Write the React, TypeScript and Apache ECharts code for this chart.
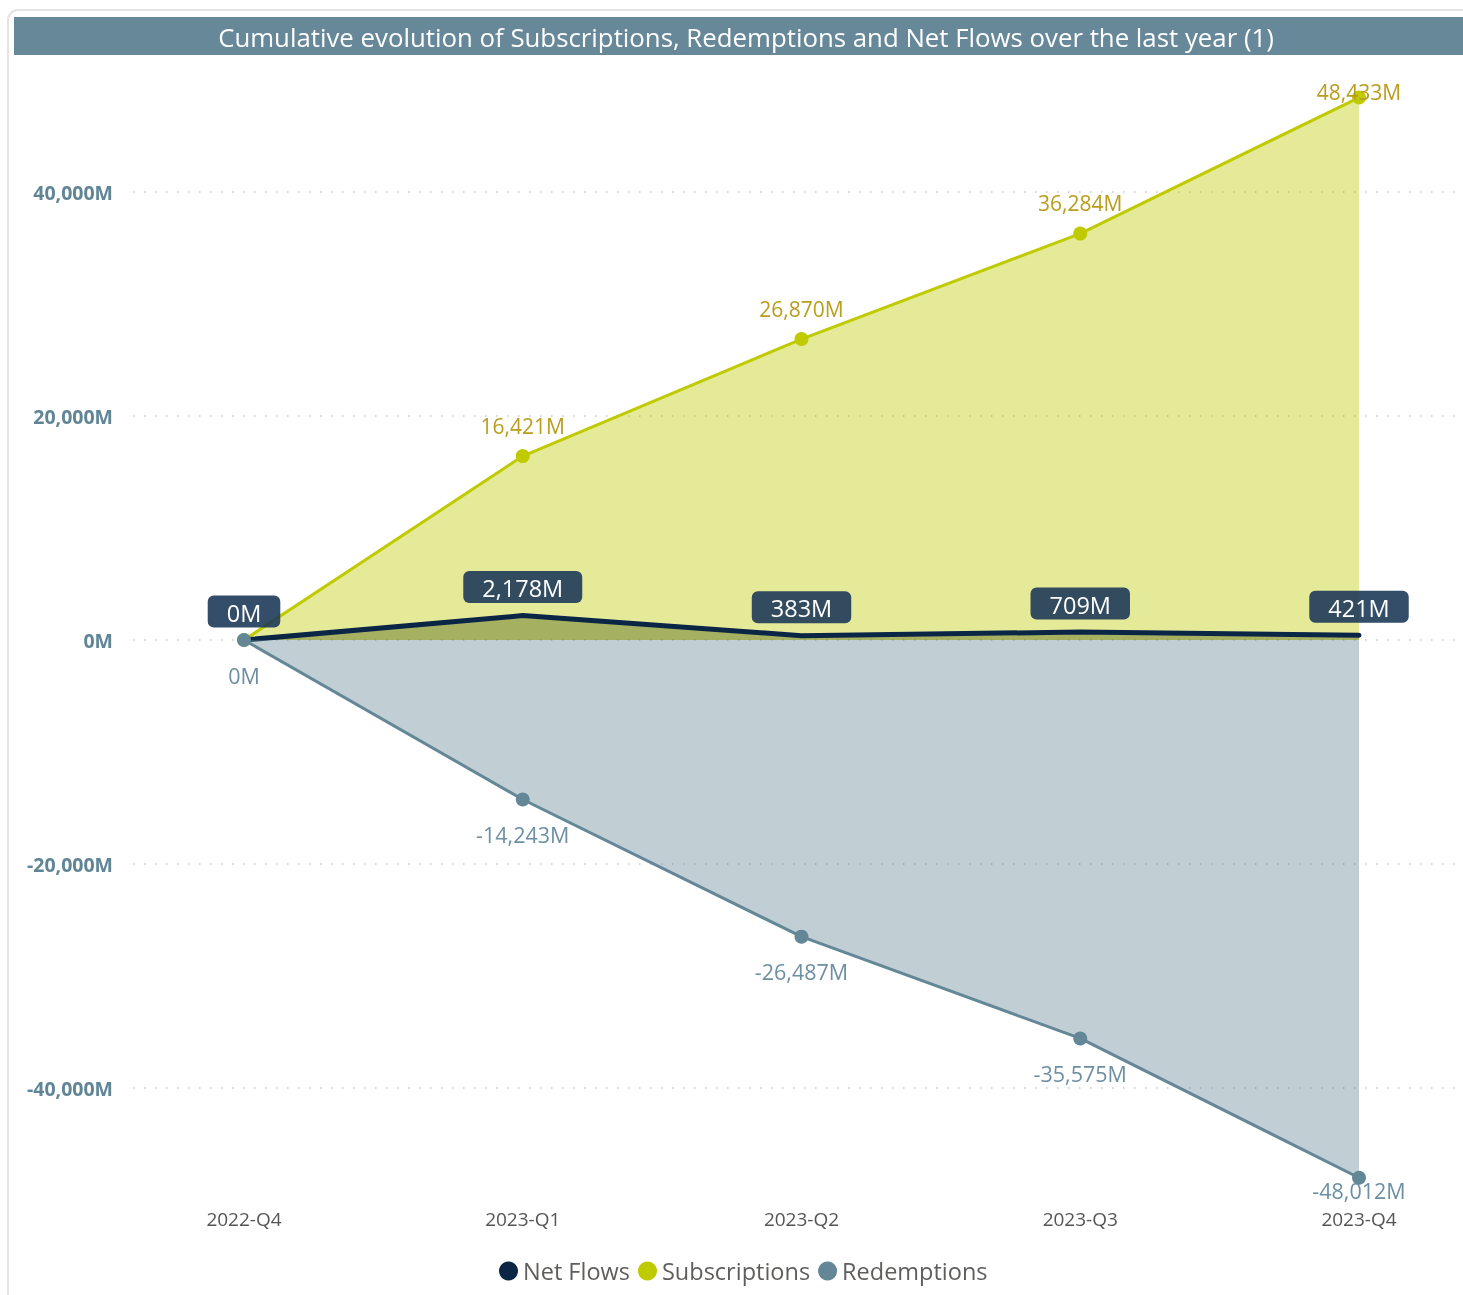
import React, { useEffect, useRef } from "react";
import * as echarts from "echarts";

const categories = ["2022-Q4", "2023-Q1", "2023-Q2", "2023-Q3", "2023-Q4"];
const netFlows = [0, 2178, 383, 709, 421];
const subscriptions = [0, 16421, 26870, 36284, 48433];
const redemptions = [0, -14243, -26487, -35575, -48012];
const seriesNames = ["Net Flows", "Subscriptions", "Redemptions"];
const titleText =
  "Cumulative evolution of Subscriptions, Redemptions and Net Flows over the last year (1)";

const FONT = "'Segoe UI', 'Open Sans', 'Noto Sans', sans-serif";
const fmt = (v: number) => Number(v).toLocaleString("en-US") + "M";

export default function App() {
  const ref = useRef<HTMLDivElement>(null);

  useEffect(() => {
    if (!ref.current) return;
    const chart = echarts.init(ref.current, undefined, { renderer: "svg" });

    const subsData = subscriptions.map((v, i) => {
      const d: any = { value: v };
      if (i === 0) d.label = { show: false };
      if (i === subscriptions.length - 1) d.label = { offset: [0, 25] };
      return d;
    });
    const redData = redemptions.map((v, i) => {
      const d: any = { value: v };
      if (i === redemptions.length - 1) d.label = { offset: [0, -22] };
      return d;
    });

    const yCommon = {
      type: "value" as const,
      min: -40000,
      max: 40000,
      interval: 20000,
    };

    chart.setOption({
      animation: false,
      textStyle: { fontFamily: FONT },
      graphic: [
        {
          type: "rect",
          shape: { x: 8, y: 10, width: 1480, height: 1300, r: 10 },
          style: { fill: "#ffffff", stroke: "#e4e4e4", lineWidth: 2 },
          z: -10,
          silent: true,
        },
        {
          type: "rect",
          shape: { x: 14, y: 17, width: 1460, height: 38 },
          style: { fill: "#678899" },
          z: 1,
          silent: true,
        },
        {
          type: "text",
          x: 746,
          y: 37,
          style: {
            text: titleText,
            fill: "#ffffff",
            fontSize: 25.8,
            fontFamily: FONT,
            align: "center",
            verticalAlign: "middle",
          },
          z: 2,
          silent: true,
        },
      ],
      legend: {
        data: seriesNames,
        top: 1259,
        left: 499,
        icon: "circle",
        itemWidth: 19,
        itemHeight: 19,
        itemGap: 8,
        textStyle: { fontSize: 23.5, color: "#605e5c", fontFamily: FONT },
        padding: 0,
      },
      grid: [
        { left: 133, right: 0, top: 192, bottom: 207, outerBoundsMode: "none" },
        { left: 244, right: 104, top: 192, bottom: 207, outerBoundsMode: "none" },
      ],
      xAxis: [
        { type: "value", gridIndex: 0, show: false, min: 0, max: 1 },
        {
          type: "category",
          gridIndex: 1,
          data: categories,
          boundaryGap: false,
          axisLine: { show: false },
          axisTick: { show: false },
          splitLine: { show: false },
          axisLabel: {
            margin: 121,
            fontSize: 19,
            color: "#555555",
            fontFamily: FONT,
          },
        },
      ],
      yAxis: [
        {
          ...yCommon,
          gridIndex: 0,
          axisLine: { show: false },
          axisTick: { show: false },
          axisLabel: {
            formatter: fmt,
            margin: 20,
            fontSize: 19.5,
            fontWeight: "bold",
            color: "#5f8597",
            fontFamily: FONT,
          },
          splitLine: {
            show: true,
            lineStyle: { color: "#c6c6c6", width: 1.5, type: [1.5, 9.5] },
          },
        },
        { ...yCommon, gridIndex: 1, show: false, splitLine: { show: false } },
      ],
      series: [
        {
          name: "Subscriptions",
          type: "line",
          xAxisIndex: 1,
          yAxisIndex: 1,
          data: subsData,
          clip: false,
          z: 2,
          symbol: "circle",
          symbolSize: 14,
          itemStyle: { color: "#bfcb00" },
          lineStyle: { color: "#bfcb00", width: 3 },
          areaStyle: { color: "rgba(191,203,0,0.4)", origin: "auto", opacity: 1 },
          label: {
            show: true,
            position: "top",
            distance: 13,
            formatter: (p: any) => fmt(p.value),
            fontSize: 21,
            color: "#b99d1c",
            fontFamily: FONT,
          },
        },
        {
          name: "Net Flows",
          type: "line",
          xAxisIndex: 1,
          yAxisIndex: 1,
          data: netFlows,
          clip: false,
          z: 3,
          symbol: "circle",
          symbolSize: 1,
          showSymbol: true,
          itemStyle: { color: "#0b2545" },
          lineStyle: { color: "#0b2545", width: 5, cap: "round" },
          areaStyle: { color: "rgba(70,90,10,0.4)", origin: "auto", opacity: 1 },
          label: {
            show: true,
            position: "top",
            distance: 12,
            formatter: (p: any) => fmt(p.value),
            fontSize: 23.5,
            color: "#ffffff",
            backgroundColor: "rgba(30,58,88,0.9)",
            borderRadius: 6,
            padding: [5, 19, 3, 19],
            fontFamily: FONT,
          },
        },
        {
          name: "Redemptions",
          type: "line",
          xAxisIndex: 1,
          yAxisIndex: 1,
          data: redData,
          clip: false,
          z: 4,
          symbol: "circle",
          symbolSize: 14,
          itemStyle: { color: "#648797" },
          lineStyle: { color: "#648797", width: 3 },
          areaStyle: { color: "rgba(100,135,151,0.4)", origin: "auto", opacity: 1 },
          label: {
            show: true,
            position: "bottom",
            distance: 17,
            formatter: (p: any) => fmt(p.value),
            fontSize: 21.5,
            color: "#6d8fa3",
            fontFamily: FONT,
          },
        },
      ],
    });

    return () => chart.dispose();
  }, []);

  return (
    <div
      ref={ref}
      style={{ position: "fixed", left: 0, top: 0, width: 1463, height: 1295 }}
    />
  );
}
